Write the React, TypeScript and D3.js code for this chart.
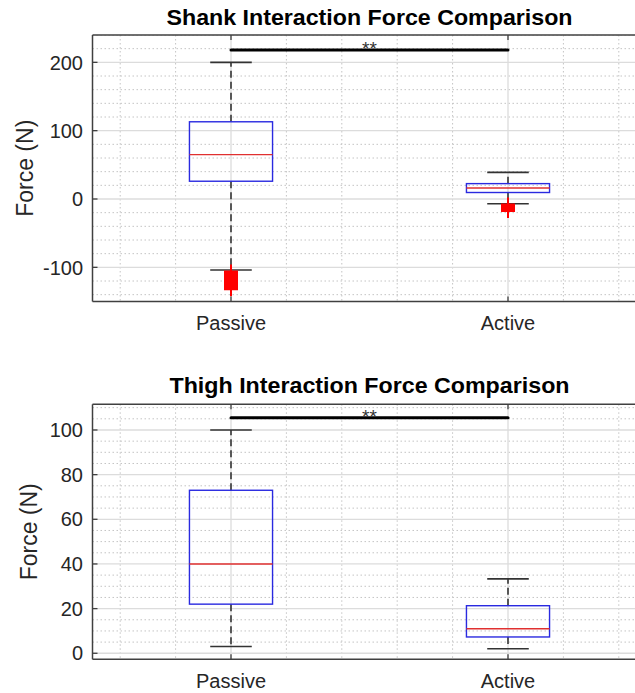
import React from "react";
import * as d3 from "d3";

// ---------- data ----------
const categories = ["Passive", "Active"];
const categoryPos = [1, 2];

const shankTitle = "Shank Interaction Force Comparison";
const shankTicks = [-100, 0, 100, 200];
const shankQ1 = [26, 9.5];
const shankMedian = [65, 16];
const shankQ3 = [113, 22.5];
const shankWhiskerLow = [-104, -7];
const shankWhiskerHigh = [200, 39];
const shankOutliersPassive = [
  -106, -107, -108, -109, -110, -111, -112, -113, -114, -115, -116, -117, -118, -119,
  -120, -121, -122, -123, -124, -125, -126, -127, -128, -129, -130, -131, -132,
];
const shankOutliersActive = [-8, -9, -10, -11, -12, -13, -14, -15, -16, -17, -17.5];
const shankSigY = 218;

const thighTitle = "Thigh Interaction Force Comparison";
const thighTicks = [0, 20, 40, 60, 80, 100];
const thighQ1 = [22, 7.3];
const thighMedian = [40, 11];
const thighQ3 = [73, 21.3];
const thighWhiskerLow = [3, 2];
const thighWhiskerHigh = [100, 33.3];
const thighSigY = 105.5;

const sigLabel = "**";
const yLabel = "Force (N)";

// ---------- layout ----------
const W = 635;
const H = 693;
const xRange: [number, number] = [92.5, 646.5];
const xDomain: [number, number] = [0.5, 2.5];

type Panel = {
  title: string;
  ticks: number[];
  minorStep: number;
  domain: [number, number];
  range: [number, number];
  q1: number[];
  med: number[];
  q3: number[];
  wlo: number[];
  whi: number[];
  outliers: number[][];
  sigY: number;
  titleY: number;
  labelY: number;
  ylabelX: number;
  titleLen: number;
};

const panels: Panel[] = [
  {
    title: shankTitle,
    ticks: shankTicks,
    minorStep: 20,
    domain: [-150, 240],
    range: [301.5, 35],
    q1: shankQ1,
    med: shankMedian,
    q3: shankQ3,
    wlo: shankWhiskerLow,
    whi: shankWhiskerHigh,
    outliers: [shankOutliersPassive, shankOutliersActive],
    sigY: shankSigY,
    titleY: 25,
    labelY: 330,
    ylabelX: 33,
    titleLen: 406,
  },
  {
    title: thighTitle,
    ticks: thighTicks,
    minorStep: 5,
    domain: [-2.7, 111.5],
    range: [659.3, 404.3],
    q1: thighQ1,
    med: thighMedian,
    q3: thighQ3,
    wlo: thighWhiskerLow,
    whi: thighWhiskerHigh,
    outliers: [[], []],
    sigY: thighSigY,
    titleY: 393,
    labelY: 688,
    ylabelX: 37,
    titleLen: 400,
  },
];

const FONT = "'Liberation Sans', Arial, Helvetica, sans-serif";

function PanelView({ p, idx }: { p: Panel; idx: number }) {
  const x = d3.scaleLinear().domain(xDomain).range(xRange);
  const y = d3.scaleLinear().domain(p.domain).range(p.range);
  const [y0, y1] = p.range; // bottom, top
  const left = x(xDomain[0]);
  const right = x(xDomain[1]);
  const boxHalf = x(1.15) - x(1);
  const capHalf = x(1.075) - x(1);

  const minorY = d3
    .range(Math.ceil(p.domain[0] / p.minorStep) * p.minorStep, p.domain[1] + 0.001, p.minorStep)
    .filter((v) => !p.ticks.includes(v));
  const minorX = d3.range(0.6, 2.5, 0.2).filter((v) => Math.abs(v - 1) > 0.01 && Math.abs(v - 2) > 0.01);
  const clipId = `clip-${idx}`;
  const centerX = x(1.5);
  const centerY = (y0 + y1) / 2;

  return (
    <g>
      <defs>
        <clipPath id={clipId}>
          <rect x={left} y={y1} width={right - left} height={y0 - y1} />
        </clipPath>
      </defs>
      <g clipPath={`url(#${clipId})`}>
        {minorY.map((v) => (
          <line key={`my${v}`} x1={left} x2={right} y1={y(v)} y2={y(v)} stroke="#c4c4c4" strokeWidth={1} strokeDasharray="1.5,2.5" />
        ))}
        {minorX.map((v) => (
          <line key={`mx${v}`} x1={x(v)} x2={x(v)} y1={y1} y2={y0} stroke="#c4c4c4" strokeWidth={1} strokeDasharray="1.5,2.5" />
        ))}
        {p.ticks.map((v) => (
          <line key={`gy${v}`} x1={left} x2={right} y1={y(v)} y2={y(v)} stroke="#dcdcdc" strokeWidth={1.3} />
        ))}
        {categoryPos.map((v) => (
          <line key={`gx${v}`} x1={x(v)} x2={x(v)} y1={y1} y2={y0} stroke="#dcdcdc" strokeWidth={1.3} />
        ))}

        {categoryPos.map((c, i) => {
          const cx = x(c);
          return (
            <g key={`box${i}`}>
              <line x1={cx} x2={cx} y1={y(p.q3[i])} y2={y(p.whi[i])} stroke="#333" strokeWidth={1.6} strokeDasharray="7,4" />
              <line x1={cx} x2={cx} y1={y(p.q1[i])} y2={y(p.wlo[i])} stroke="#333" strokeWidth={1.6} strokeDasharray="7,4" />
              <line x1={cx - capHalf} x2={cx + capHalf} y1={y(p.whi[i])} y2={y(p.whi[i])} stroke="#333" strokeWidth={1.6} />
              <line x1={cx - capHalf} x2={cx + capHalf} y1={y(p.wlo[i])} y2={y(p.wlo[i])} stroke="#333" strokeWidth={1.6} />
              <rect
                x={cx - boxHalf}
                y={y(p.q3[i])}
                width={2 * boxHalf}
                height={y(p.q1[i]) - y(p.q3[i])}
                fill="none"
                stroke="#2a2ae0"
                strokeWidth={1.4}
              />
              <line x1={cx - boxHalf} x2={cx + boxHalf} y1={y(p.med[i])} y2={y(p.med[i])} stroke="#e03030" strokeWidth={1.4} />
              {p.outliers[i].map((v, k) => (
                <path
                  key={`o${k}`}
                  d={`M${cx - 7},${y(v)}H${cx + 7}M${cx},${y(v) - 7}V${y(v) + 7}`}
                  stroke="#ff0000"
                  strokeWidth={2}
                  fill="none"
                />
              ))}
            </g>
          );
        })}

        <line x1={x(1)} x2={x(2)} y1={y(p.sigY)} y2={y(p.sigY)} stroke="#000" strokeWidth={3} strokeLinecap="round" />
      </g>
      <text x={centerX} y={y(p.sigY) + 5} textAnchor="middle" fontFamily={FONT} fontSize={19} fill="#333">
        {sigLabel}
      </text>

      {/* axes box */}
      <line x1={left} x2={right} y1={y0} y2={y0} stroke="#404040" strokeWidth={1.5} />
      <line x1={left} x2={right} y1={y1} y2={y1} stroke="#404040" strokeWidth={1.5} />
      <line x1={left} x2={left} y1={y1} y2={y0} stroke="#404040" strokeWidth={1.5} />
      {p.ticks.map((v) => (
        <line key={`ty${v}`} x1={left} x2={left + 5} y1={y(v)} y2={y(v)} stroke="#404040" strokeWidth={1.3} />
      ))}
      {categoryPos.map((v) => (
        <g key={`tx${v}`}>
          <line x1={x(v)} x2={x(v)} y1={y0} y2={y0 - 5} stroke="#404040" strokeWidth={1.3} />
          <line x1={x(v)} x2={x(v)} y1={y1} y2={y1 + 5} stroke="#404040" strokeWidth={1.3} />
        </g>
      ))}

      {/* tick labels */}
      {p.ticks.map((v) => (
        <text key={`tl${v}`} x={83} y={y(v)} dy="0.36em" textAnchor="end" fontFamily={FONT} fontSize={20} fill="#262626">
          {String(v)}
        </text>
      ))}
      {categories.map((c, i) => (
        <text key={c} x={x(categoryPos[i])} y={p.labelY} textAnchor="middle" fontFamily={FONT} fontSize={20} fill="#262626">
          {c}
        </text>
      ))}

      {/* title */}
      <text
        x={centerX}
        y={p.titleY}
        textAnchor="middle"
        fontFamily={FONT}
        fontWeight="bold"
        fontSize={22}
        fill="#000"
        textLength={p.titleLen}
        lengthAdjust="spacingAndGlyphs"
      >
        {p.title}
      </text>

      {/* y label */}
      <text
        transform={`translate(${p.ylabelX},${centerY}) rotate(-90)`}
        textAnchor="middle"
        fontFamily={FONT}
        fontSize={23}
        fill="#262626"
      >
        {yLabel}
      </text>
    </g>
  );
}

export default function App() {
  return (
    <svg
      width={W}
      height={H}
      viewBox={`0 0 ${W} ${H}`}
      style={{ position: "absolute", left: 0, top: 0, background: "#fff" }}
    >
      <rect x={0} y={0} width={W} height={H} fill="#fff" />
      {panels.map((p, i) => (
        <PanelView key={i} p={p} idx={i} />
      ))}
    </svg>
  );
}
